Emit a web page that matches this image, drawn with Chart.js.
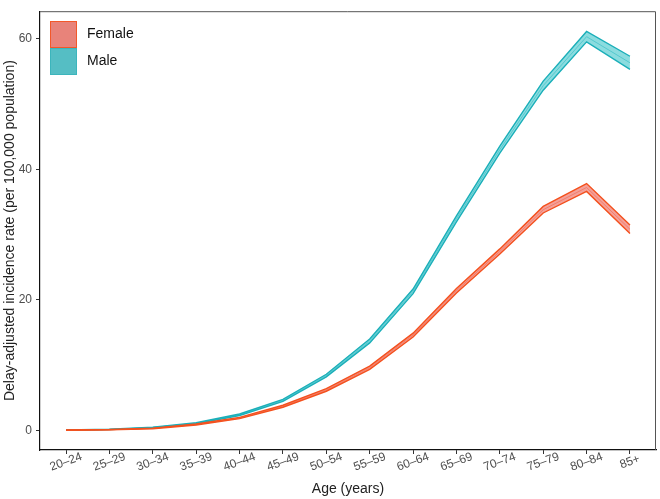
<!DOCTYPE html>
<html>
<head>
<meta charset="utf-8">
<script src="https://cdn.jsdelivr.net/npm/chart.js@4"></script>
<style>
  html, body { margin: 0; padding: 0; background: #fff; }
  #wrap { width: 660px; height: 499px; }
</style>
</head>
<body>
<div id="wrap"><canvas id="chart" width="660" height="499"></canvas></div>
<script>
const ageGroups = ['20–24', '25–29', '30–34', '35–39', '40–44', '45–49', '50–54', '55–59', '60–64', '65–69', '70–74', '75–79', '80–84', '85+'];
const yTicks = [0, 20, 40, 60];

const femaleRate  = [0.05, 0.10, 0.30, 0.90, 1.90, 3.70, 6.20, 9.60, 14.60, 21.40, 27.40, 33.80, 37.20, 30.80];
const femaleLower = [0.03, 0.08, 0.25, 0.82, 1.80, 3.55, 6.00, 9.35, 14.30, 21.05, 27.00, 33.30, 36.60, 30.15];
const femaleUpper = [0.07, 0.13, 0.35, 0.98, 2.00, 3.85, 6.40, 9.85, 14.90, 21.75, 27.80, 34.30, 37.80, 31.45];

const maleRate  = [0.05, 0.15, 0.45, 1.10, 2.40, 4.60, 8.40, 13.70, 21.30, 32.40, 43.00, 52.80, 60.30, 56.30];
const maleLower = [0.03, 0.12, 0.40, 1.02, 2.28, 4.45, 8.20, 13.40, 20.95, 31.95, 42.45, 52.10, 59.50, 55.30];
const maleUpper = [0.07, 0.18, 0.50, 1.18, 2.52, 4.75, 8.60, 14.00, 21.65, 32.85, 43.55, 53.50, 61.10, 57.30];

const sexNames = ['Female', 'Male'];

const FONT = "'Liberation Sans', Arial, sans-serif";
const pts = arr => arr.map((v, i) => ({ x: i, y: v }));

function band(lower, upper, rate, line, fill) {
  return [
    { data: pts(lower), borderColor: line, borderWidth: 1.4, pointRadius: 0, fill: false },
    { data: pts(upper), borderColor: line, borderWidth: 1.4, pointRadius: 0, fill: '-1', backgroundColor: fill },
    { data: pts(rate), borderColor: line, borderWidth: 0.8, pointRadius: 0, fill: false }
  ];
}

// ggplot-style extras: frame, centred angled x labels, legend inside panel
const ggPlugin = {
  id: 'ggExtras',
  afterDraw(chart) {
    const ctx = chart.ctx;
    const area = chart.chartArea;
    const xs = chart.scales.x;
    ctx.save();
    ctx.strokeStyle = '#555';
    ctx.lineWidth = 1;
    ctx.beginPath();
    ctx.moveTo(area.left, area.top + 0.5);
    ctx.lineTo(area.right - 0.5, area.top + 0.5);
    ctx.lineTo(area.right - 0.5, area.bottom);
    ctx.stroke();

    ctx.fillStyle = '#4D4D4D';
    ctx.font = '12px ' + FONT;
    ctx.textAlign = 'center';
    ctx.textBaseline = 'middle';
    ageGroups.forEach((lab, i) => {
      ctx.save();
      ctx.translate(xs.getPixelForValue(i), area.bottom + 12);
      ctx.rotate(-20 * Math.PI / 180);
      ctx.fillText(lab, 0, 0);
      ctx.restore();
    });

    const boxes = [
      { fill: '#E8837A', stroke: '#F2582A' },
      { fill: '#55BEC4', stroke: '#3CB5BC' }
    ];
    ctx.textAlign = 'left';
    sexNames.forEach((name, i) => {
      const y = 21 + i * 27;
      ctx.fillStyle = boxes[i].fill;
      ctx.fillRect(51, y, 26, 26);
      ctx.strokeStyle = boxes[i].stroke;
      ctx.lineWidth = 1;
      ctx.strokeRect(50.5, y + 0.5, 26, 26);
      ctx.fillStyle = '#111';
      ctx.font = '14px ' + FONT;
      ctx.fillText(name, 87, y + 13);
    });
    ctx.restore();
  }
};

new Chart(document.getElementById('chart'), {
  type: 'line',
  data: {
    datasets: [
      ...band(femaleLower, femaleUpper, femaleRate, '#F4511E', 'rgba(240, 128, 118, 0.75)'),
      ...band(maleLower, maleUpper, maleRate, '#1BAFB9', 'rgba(90, 205, 210, 0.7)')
    ]
  },
  options: {
    responsive: false,
    animation: false,
    layout: { padding: { top: 4, right: 4, left: 0, bottom: 0 } },
    plugins: { legend: { display: false }, tooltip: { enabled: false } },
    elements: { line: { tension: 0 } },
    scales: {
      x: {
        type: 'linear',
        min: -0.6,
        max: 13.6,
        afterBuildTicks: s => { s.ticks = ageGroups.map((_, i) => ({ value: i })); },
        afterFit: s => { s.height = 49; },
        ticks: {
          callback: v => ageGroups[v],
          maxRotation: 0,
          color: 'rgba(0,0,0,0)',
          font: { family: FONT, size: 12 },
          padding: 0
        },
        grid: { drawOnChartArea: false, drawTicks: true, tickLength: 4, tickColor: '#333' },
        border: { display: true, color: '#111', width: 1.2 },
        title: { display: true, text: 'Age (years)', color: '#222', font: { family: FONT, size: 14 }, padding: { top: 0, bottom: 1 } }
      },
      y: {
        min: -3.0,
        max: 64.2,
        afterBuildTicks: s => { s.ticks = yTicks.map(v => ({ value: v })); },
        afterFit: s => { s.width = 40; },
        ticks: { color: '#4D4D4D', font: { family: FONT, size: 12 }, padding: 4 },
        grid: { drawOnChartArea: false, drawTicks: true, tickLength: 4, tickColor: '#333' },
        border: { display: true, color: '#111', width: 1.2 },
        title: { display: true, text: 'Delay-adjusted incidence rate (per 100,000 population)', color: '#222', font: { family: FONT, size: 14 }, padding: { top: 2, bottom: 0 } }
      }
    }
  },
  plugins: [ggPlugin]
});
</script>
</body>
</html>
